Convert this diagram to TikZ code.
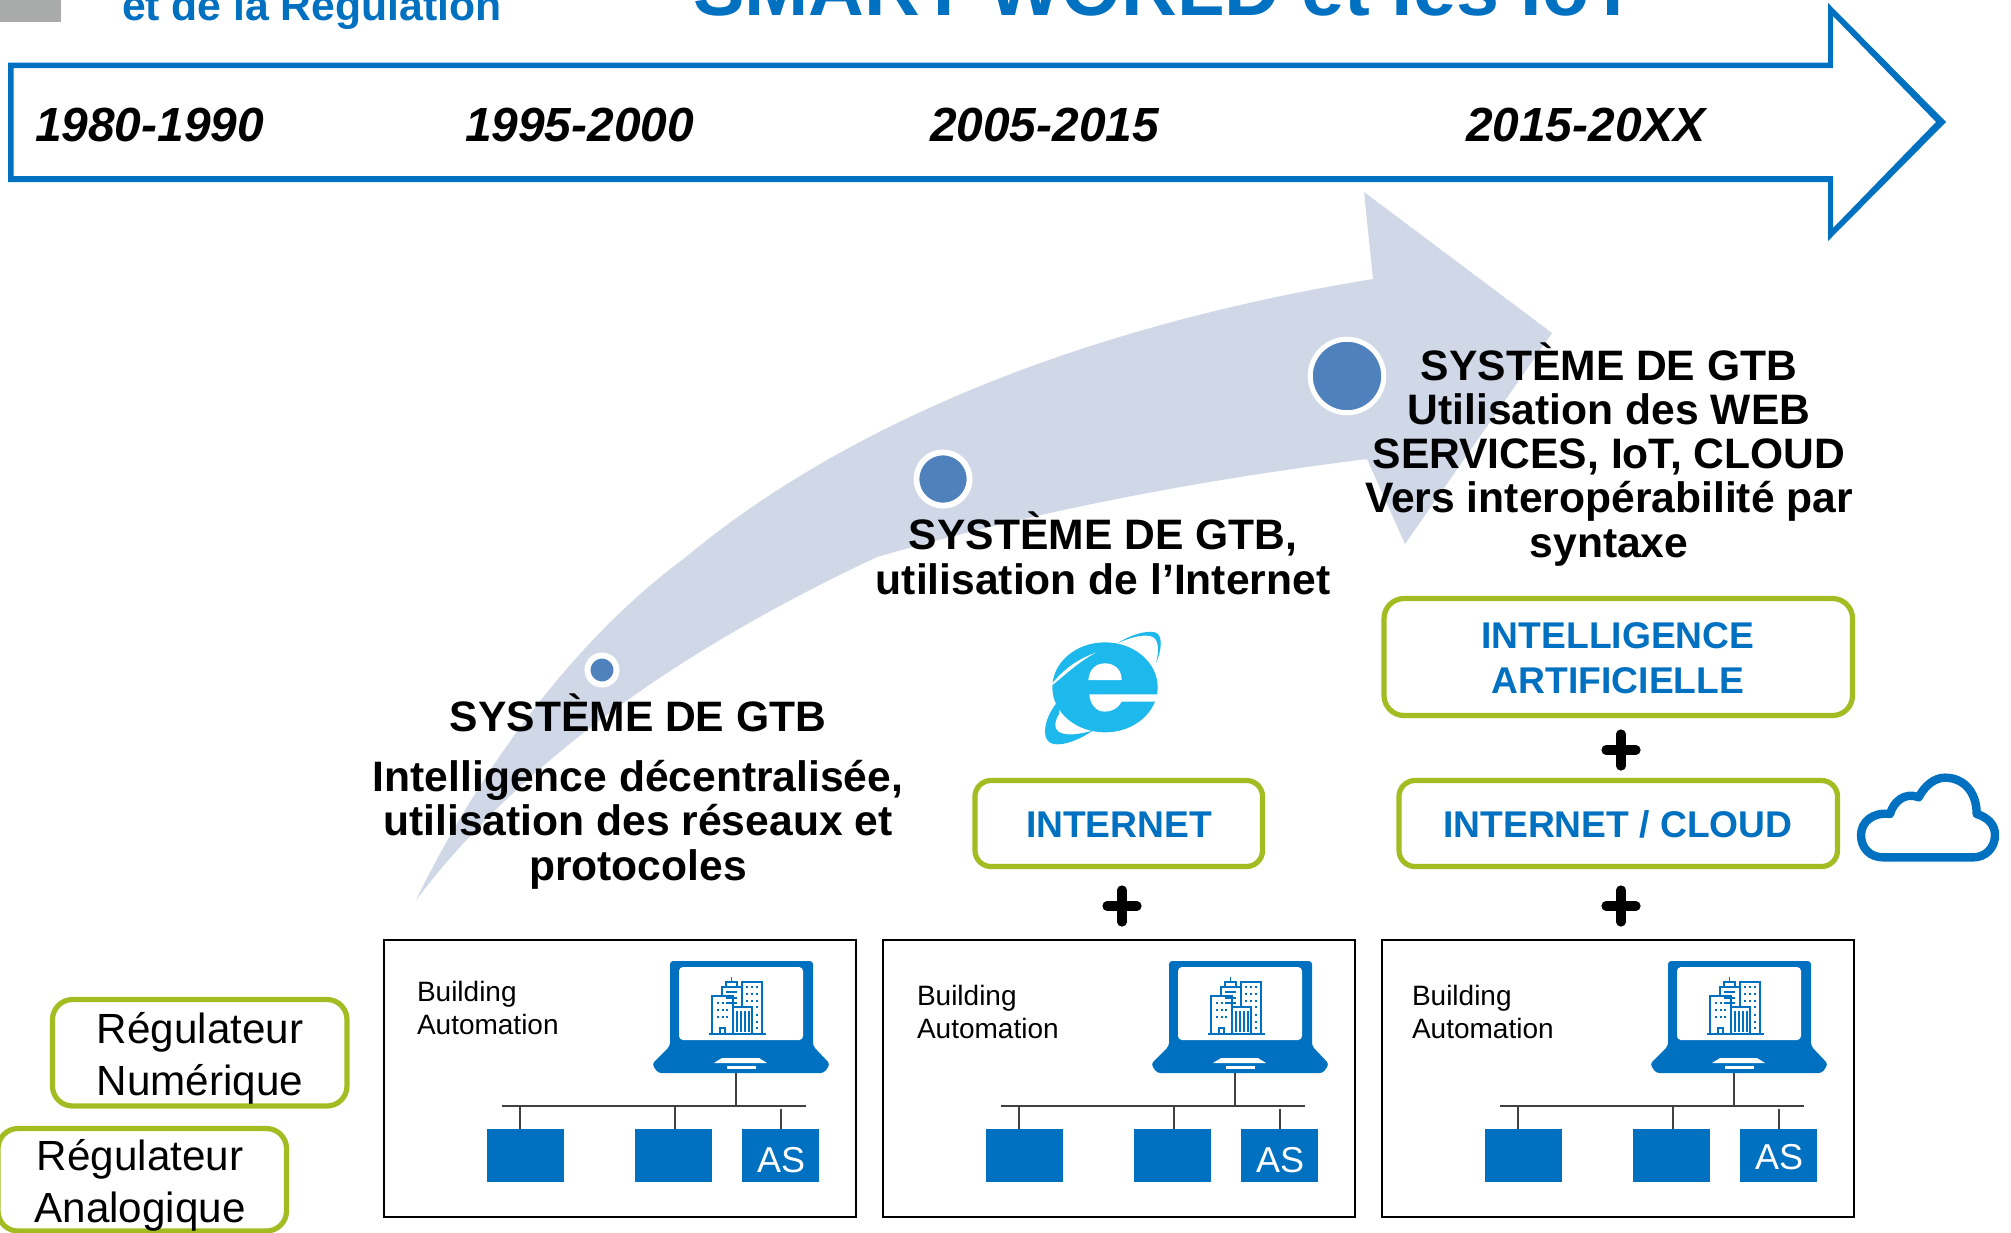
\documentclass[tikz,border=0pt]{standalone}
\usepackage{fontspec}
\setmainfont{Liberation Sans}
\definecolor{mainblue}{HTML}{0070C0}
\definecolor{limeg}{HTML}{A2BD21}
\definecolor{swoosh}{HTML}{D0D8E8}
\definecolor{dotblue}{HTML}{4F81BD}
\definecolor{iecol}{HTML}{1DB8EC}
\definecolor{greybox}{HTML}{A9ABAB}
\definecolor{busgrey}{HTML}{404040}
\newcommand{\fs}[2]{\fontsize{#1}{#2}\selectfont}
\tikzset{
  lbl/.style={inner sep=0pt,outer sep=0pt,anchor=base,align=center},
  head/.style={lbl,text=black,font=\fs{21.3}{22.1}\bfseries},
  datelbl/.style={lbl,anchor=base west,text=black,font=\fs{23.95}{26}\bfseries\itshape},
  bluebold/.style={lbl,text=mainblue,font=\fs{18.6}{22.5}\bfseries},
  reg/.style={lbl,text=black,font=\fs{21.1}{26}},
  balbl/.style={lbl,anchor=base west,align=left,text=black,font=\fs{14}{16.2}},
  limebox/.style={draw=limeg,line width=2.6pt,rounded corners=#1,fill=none},
  asbox/.style={fill=mainblue,inner sep=0pt,outer sep=0pt},
  bus/.style={draw=busgrey,line width=1pt},
  plusbar/.style={line width=4.6pt,line cap=round,draw=black},
  dotn/.style={circle,fill=dotblue,draw=white,inner sep=0pt,outer sep=0pt},
}
\begin{document}
\begin{tikzpicture}[x=0.5pt,y=-0.5pt]
\clip (0,0) rectangle (2011,1232);
\fill[white] (0,0) rectangle (2011,1232);
% top leftovers
\fill[greybox] (0,0) rectangle (61,22);
\node[lbl,anchor=base west,text=mainblue,font=\fs{21.35}{24}\bfseries] (tleft) at (122,20) {et de la Régulation};
\node[lbl,anchor=base west,text=mainblue,font=\fs{38.6}{40}\bfseries] (ttitle) at (693,15) {SMART WORLD et les IoT};
% timeline arrow
\fill[mainblue,even odd rule]
  (8,62.5) -- (1828,62.5) -- (1828,3) -- (1946,122) -- (1828,241) -- (1828,182) -- (8,182) -- cycle
  (13.5,68) -- (1833,68) -- (1833,16) -- (1936,122) -- (1833,228) -- (1833,176) -- (13.5,176) -- cycle;
\node[datelbl] (d1) at (35,141) {1980-1990};
\node[datelbl] (d2) at (465,141) {1995-2000};
\node[datelbl] (d3) at (930,141) {2005-2015};
\node[datelbl] (d4) at (1466,141) {2015-20XX};
% swoosh
\fill[swoosh] (416,900) .. controls (470,790) and (560,650) .. (686,557)
  .. controls (790,470) and (1000,340) .. (1373,279)
  -- (1364,192) -- (1552,333) -- (1405,544) -- (1367,459)
  .. controls (1200,480) and (1040,510) .. (877,557)
  .. controls (700,640) and (530,750) .. (416,900) -- cycle;
% dots
\node[dotn,minimum size=14.5pt,line width=3pt] (dot1) at (602,670) {};
\node[dotn,minimum size=26.6pt,line width=2.9pt] (dot2) at (943,479) {};
\node[dotn,minimum size=36.75pt,line width=2.5pt] (dot3) at (1347,376) {};
% headings
\node[head] (h1a) at (638,731) {SYSTÈME DE GTB};
\node[head] (h1b) at (638,880) {Intelligence décentralisée,\\utilisation des réseaux et\\protocoles};
\node[head] (h2) at (1103,594) {SYSTÈME DE GTB,\\utilisation de l’Internet};
\node[head] (h3) at (1609,557) {SYSTÈME DE GTB\\Utilisation des WEB\\SERVICES, IoT, CLOUD\\Vers interopérabilité par\\syntaxe};
% IE logo
\begin{scope}[shift={(1000,600)},scale=1/3]
  \fill[iecol] (315,262) ellipse (158 and 135);
  \fill[iecol] (178,300) .. controls (130,350) and (120,425) .. (160,432)
     .. controls (195,438) and (245,415) .. (278,392)
     .. controls (240,402) and (200,410) .. (175,395)
     .. controls (160,385) and (165,360) .. (178,340) -- cycle;
  \fill[iecol] (352,130) .. controls (390,105) and (440,90) .. (465,97)
     .. controls (490,105) and (485,150) .. (468,190)
     .. controls (480,145) and (475,112) .. (450,108)
     .. controls (420,103) and (385,115) .. (352,130) -- cycle;
  \fill[white] (265,240) .. controls (268,205) and (290,190) .. (315,190)
     .. controls (345,190) and (365,210) .. (365,240) -- cycle;
  \fill[white] (268,283) -- (478,283) -- (478,305) -- (365,305)
     .. controls (355,325) and (335,335) .. (315,335)
     .. controls (285,335) and (270,310) .. (268,283) -- cycle;
  \fill[white] (145,265) .. controls (185,212) and (230,178) .. (287,158)
     .. controls (235,186) and (195,225) .. (145,265) -- cycle;
\end{scope}
% cloud
\begin{scope}[shift={(1820,750)},scale=1/3]
  \draw[mainblue,line width=4.2pt,line join=round]
    (190,322) .. controls (150,322) and (123,295) .. (123,255)
    .. controls (123,215) and (160,185) .. (210,192)
    .. controls (220,155) and (255,125) .. (296,142)
    .. controls (315,105) and (345,83) .. (375,83)
    .. controls (430,83) and (470,125) .. (470,192)
    .. controls (505,203) and (525,225) .. (525,255)
    .. controls (525,295) and (495,322) .. (460,322) -- cycle;
\end{scope}
% lime boxes
\draw[limebox=10pt] (1384,598.5) rectangle (1852.5,715.5);
\draw[limebox=8pt] (1399,780.5) rectangle (1837.5,866.5);
\draw[limebox=8pt] (975,780.5) rectangle (1262.5,866.5);
\draw[limebox=10pt] (52.5,999.5) rectangle (347,1106);
\draw[limebox=10pt] (-2,1128.5) rectangle (286.5,1231);
\node[bluebold] (ia) at (1618,693) {INTELLIGENCE\\ARTIFICIELLE};
\node[bluebold] (ic) at (1618,837) {INTERNET / CLOUD};
\node[bluebold] (in) at (1119,837) {INTERNET};
\node[reg] (rn) at (200,1095) {Régulateur\\Numérique};
\node[reg] (ra) at (140,1222) {Régulateur\\Analogique};
% plus signs
\foreach \px/\py in {1621/750,1621/906,1122/906}{
  \draw[plusbar] (\px-15,\py) -- (\px+15,\py);
  \draw[plusbar] (\px,\py-16) -- (\px,\py+16);
}
% building automation modules
\foreach \n/\dx/\tx/\ty/\ay in {1/0/0/0/0,2/499/1/4/0,3/998/-3/4/-3}{
\begin{scope}[shift={(\dx,0)}]
  \draw[black,line width=1.1pt] (384,940) rectangle (856,1217);
  \node[balbl] (ba\n) at (417+\tx,1034+\ty) {Building\\Automation};
  % laptop
  \fill[mainblue,rounded corners=1.6pt] (670,1046) -- (670,961) -- (813,961) -- (813,1046) -- (830,1064) -- (824,1073) -- (658,1073) -- (652,1064) -- cycle;
  \fill[white,rounded corners=2pt] (679,967) rectangle (803,1040);
  \fill[white] (722,1058) -- (759,1058) -- (767,1063) -- (714,1063) -- cycle;
  \fill[white] (727,1066) rectangle (756,1069);
  % city icon
  \begin{scope}[mainblue,line width=0.6pt]
    \draw (709,1034) -- (766,1034);
    \draw (712,1034) -- (712,996) -- (733,996) -- (733,1034);
    \draw (722,996) -- (722,987) -- (742,987) -- (742,1007);
    \draw (726,987) -- (726,982) -- (737,982) -- (737,987);
    \draw (731.5,982) -- (731.5,977);
    \draw (742,987) -- (742,982) -- (762,982) -- (762,1034);
    \draw (733,1007) -- (752,1007) -- (752,1034);
    \foreach \bx in {737,741,745,749} \draw (\bx,1011) -- (\bx,1032);
    \foreach \hy in {992,998,1003} \draw (726,\hy) -- (737,\hy);
    \draw (720,1034) -- (720,1028) -- (725,1028) -- (725,1034);
    \foreach \wx in {718,722.5,727} \foreach \wy in {1003,1010,1017} \fill (\wx-1,\wy-1) rectangle (\wx+1,\wy+1);
    \foreach \wx in {747,752,757} \foreach \wy in {987,994,1001} \fill (\wx-1,\wy-1) rectangle (\wx+1,\wy+1);
    \foreach \wy in {1007,1015,1022,1028} \fill (756,\wy-1) rectangle (758,\wy+1);
  \end{scope}
  % controllers
  \node[asbox,minimum width=38.5pt,minimum height=26.5pt] (c1\n) at (525.5,1155.5) {};
  \node[asbox,minimum width=38.5pt,minimum height=26.5pt] (c2\n) at (673.5,1155.5) {};
  \node[asbox,minimum width=38.5pt,minimum height=26.5pt] (c3\n) at (780.5,1155.5) {};
  \node[lbl,text=white,font=\fs{18}{20}] (as\n) at (781,1172+\ay) {AS};
  % bus
  \coordinate (busl\n) at (502,1106);
  \coordinate (busr\n) at (806,1106);
  \coordinate (lap\n) at (736,1073);
  \coordinate (j0\n) at (736,1106);
  \coordinate (j1\n) at (520,1106);
  \coordinate (j2\n) at (675,1106);
  \coordinate (j3\n) at (781,1109);
  \draw[bus] (busl\n) -- (busr\n);
  \draw[bus] (lap\n) -- (j0\n);
  \draw[bus] (j1\n) -- (520,1129);
  \draw[bus] (j2\n) -- (675,1129);
  \draw[bus] (j3\n) -- (781,1129);
\end{scope}
}
\end{tikzpicture}
\end{document}
